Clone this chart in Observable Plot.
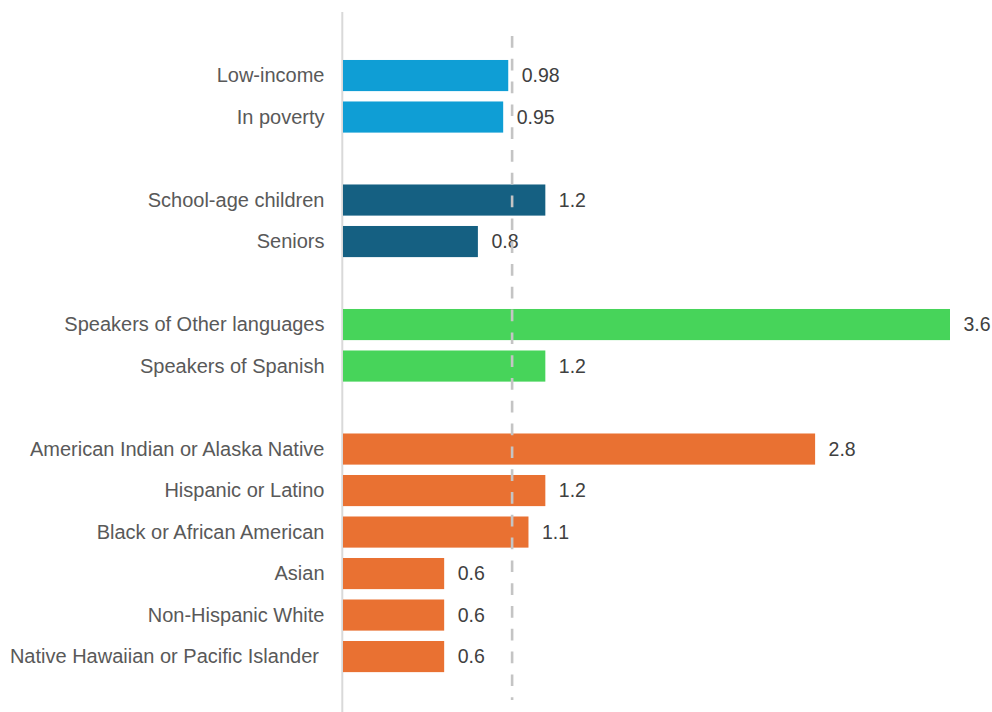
<!DOCTYPE html>
<html>
<head>
<meta charset="utf-8">
<script src="https://cdn.jsdelivr.net/npm/d3@7"></script>
<script src="https://cdn.jsdelivr.net/npm/@observablehq/plot@0.6"></script>
<style>
  html, body { margin: 0; padding: 0; background: #fff; }
</style>
</head>
<body>
<div id="chart"></div>
<script>
// Categories in display order (blank strings are group spacers)
const categories = [
  "Low-income", "In poverty", " ",
  "School-age children", "Seniors", "  ",
  "Speakers of Other languages", "Speakers of Spanish", "   ",
  "American Indian or Alaska Native", "Hispanic or Latino", "Black or African American",
  "Asian", "Non-Hispanic White", "Native Hawaiian or Pacific Islander\u00a0"
];
const labels = [
  "Low-income", "In poverty",
  "School-age children", "Seniors",
  "Speakers of Other languages", "Speakers of Spanish",
  "American Indian or Alaska Native", "Hispanic or Latino", "Black or African American",
  "Asian", "Non-Hispanic White", "Native Hawaiian or Pacific Islander\u00a0"
];
const values = [0.98, 0.95, 1.2, 0.8, 3.6, 1.2, 2.8, 1.2, 1.1, 0.6, 0.6, 0.6];
const valueText = ["0.98", "0.95", "1.2", "0.8", "3.6", "1.2", "2.8", "1.2", "1.1", "0.6", "0.6", "0.6"];
const groups = ["income", "income", "age", "age", "language", "language",
  "race", "race", "race", "race", "race", "race"];
const groupColors = {income: "#0F9ED5", age: "#156082", language: "#47D45A", race: "#E97132"};
const referenceValue = [1];

const data = labels.map((l, i) => ({label: l, value: values[i], text: valueText[i], group: groups[i]}));

const chart = Plot.plot({
  width: 992,
  height: 712,
  marginLeft: 343,
  marginRight: 42,
  marginTop: 12,
  marginBottom: 0,
  insetTop: 37.6,
  insetBottom: 29.5,
  style: {fontFamily: "'Liberation Sans', Arial, Helvetica, sans-serif", fontSize: "19px", background: "#fff"},
  x: {domain: [0, 3.6], axis: null},
  y: {domain: categories, padding: 0.25, round: false, axis: null},
  marks: [
    Plot.ruleX([0], {stroke: "#d9d9d9", strokeWidth: 2, dx: -1.2}),
    Plot.barX(data, {x: "value", y: "label", fill: d => groupColors[d.group]}),
    Plot.axisY({tickSize: 0, tickPadding: 19, fill: "#595959", fontSize: 20, label: null}),
    Plot.text(data, {x: "value", y: "label", text: "text", dx: 13, textAnchor: "start", fill: "#404040", fontSize: 19.5}),
    Plot.ruleX(referenceValue, {stroke: "#c4c4c4", strokeWidth: 2.6, strokeDasharray: "11.7,11.1", insetTop: 24, insetBottom: 12})
  ]
});
document.getElementById("chart").appendChild(chart);
</script>
</body>
</html>
